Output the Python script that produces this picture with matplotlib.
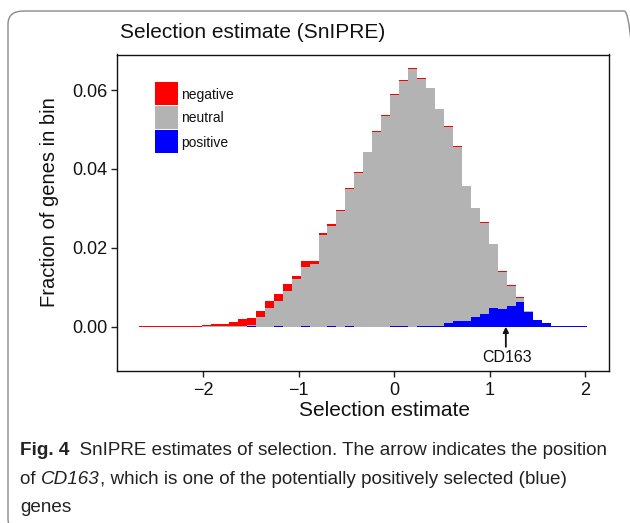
import numpy as np
import matplotlib
matplotlib.use("Agg")
import matplotlib.pyplot as plt
from matplotlib.patches import Rectangle, FancyBboxPatch
from matplotlib import font_manager

# ---------------- data ----------------
bin_lo, bin_hi, n_bins = -2.668, 2.018, 50
negative = [0.0002, 0.0001, 0.0001, 0.0001, 0.0001, 0.0001, 0.0002, 0.0003, 0.0006, 0.0006,
            0.0012, 0.0018, 0.0019, 0.0015, 0.0018, 0.0018, 0.0018, 0.0007, 0.0016, 0.0008,
            0.0005, 0.0005, 0.0003, 0.0003, 0.0002, 0.0001, 0.0001, 0.0001, 0.0001, 0.0001,
            0.0001, 0.0001, 0.0001, 0.0001, 0.0001, 0.0001, 0.0001, 0.0001, 0.0001, 0.0001,
            0.0001, 0.0001, 0.0001, 0.0001, 0.0000, 0.0000, 0.0001, 0.0002, 0.0001, 0.0002]
neutral = [0.0, 0.0, 0.0, 0.0, 0.0, 0.0, 0.0, 0.0001, 0.0001, 0.0001,
           0.0001, 0.0001, 0.0003, 0.0025, 0.0047, 0.0064, 0.0090, 0.0121, 0.0150, 0.0159,
           0.0232, 0.0254, 0.0293, 0.0348, 0.0389, 0.0442, 0.0494, 0.0535, 0.0587, 0.0623,
           0.0654, 0.0627, 0.0602, 0.0549, 0.0498, 0.0442, 0.0342, 0.0275, 0.0232, 0.0162,
           0.0094, 0.0052, 0.0011, 0.0002, 0.0, 0.0, 0.0, 0.0, 0.0, 0.0]
positive = [0.0, 0.0, 0.0, 0.0, 0.0, 0.0, 0.0, 0.0, 0.0, 0.0,
            0.0, 0.0, 0.0001, 0.0, 0.0, 0.0001, 0.0, 0.0, 0.0001, 0.0,
            0.0, 0.0001, 0.0, 0.0001, 0.0, 0.0, 0.0, 0.0, 0.0001, 0.0001,
            0.0, 0.0002, 0.0002, 0.0003, 0.0009, 0.0014, 0.0014, 0.0025, 0.0032, 0.0047,
            0.0045, 0.0052, 0.0063, 0.0037, 0.0017, 0.0009, 0.0002, 0.0001, 0.0002, 0.0001]
series_labels = ["negative", "neutral", "positive"]
series_colors = ["#FF0000", "#B3B3B3", "#0000FF"]
xticks = [-2, -1, 0, 1, 2]
yticks = [0.00, 0.02, 0.04, 0.06]
ytick_labels = ["0.00", "0.02", "0.04", "0.06"]
gene_label = "CD163"
gene_x = 1.167

title = "Selection estimate (SnIPRE)"
xlabel = "Selection estimate"
ylabel = "Fraction of genes in bin"

# ---------------- figure ----------------
W, H = 630, 523
fig = plt.figure(figsize=(W / 100, H / 100), dpi=100)
FONT = ["Liberation Sans", "DejaVu Sans"]
plt.rcParams["font.family"] = FONT


def fx(px):
    return px / W


def fy(py):
    return 1 - py / H


# outer rounded frame
fig.patches.append(FancyBboxPatch((fx(8), fy(532)), fx(640) - fx(8), fy(11) - fy(532),
                                  boxstyle="round,pad=0,rounding_size=0.025",
                                  transform=fig.transFigure, facecolor="none",
                                  edgecolor="#8a8a8a", linewidth=1.0))

ax = fig.add_axes([fx(117.3), fy(370.7), fx(609.3) - fx(117.3), fy(54.5) - fy(370.7)])

edges = np.linspace(bin_lo, bin_hi, n_bins + 1)
width = edges[1] - edges[0]
left = edges[:-1]
pos = np.array(positive)
neu = np.array(neutral)
neg = np.array(negative)
ax.bar(left, pos, width=width, align="edge", color=series_colors[2], linewidth=0)
ax.bar(left, neu, width=width, bottom=pos, align="edge", color=series_colors[1], linewidth=0)
# negative drawn slightly translucent so sub-pixel slivers blend to pink as in the print
ax.bar(left, neg, width=width, bottom=pos + neu, align="edge", color=series_colors[0],
       linewidth=0)

ax.set_xlim(-2.90, 2.25)
ax.set_ylim(-0.01115, 0.0690)
ax.set_xticks(xticks)
ax.set_xticklabels(["\u2212%d" % abs(v) if v < 0 else "%d" % v for v in xticks])
ax.set_yticks(yticks)
ax.set_yticklabels(ytick_labels)
ax.tick_params(axis="both", direction="out", length=4.5, width=1.0, labelsize=13,
               color="#222222", labelcolor="#111111")
ax.tick_params(axis="x", pad=3.5)
ax.tick_params(axis="y", pad=2.5)
for s in ax.spines.values():
    s.set_linewidth(1.0)
    s.set_color("#111111")

# arrow + gene label
ax.annotate("", xy=(gene_x, 0.0), xytext=(gene_x, -0.0051),
            arrowprops=dict(arrowstyle="-|>", color="#111111", lw=1.3,
                            mutation_scale=8, shrinkA=0, shrinkB=0))
ax.text(gene_x + 0.01, -0.00902, gene_label, ha="center", va="baseline",
        fontsize=11.5, color="#111111")

# legend (manual, base-R style fill boxes)
box_tops = [82, 106, 130]
for lab, col, top in zip(series_labels, series_colors, box_tops):
    fig.patches.append(Rectangle((fx(155), fy(top + 23)), fx(178) - fx(155), fy(top) - fy(top + 23),
                                 transform=fig.transFigure, facecolor=col, edgecolor="none"))
    fig.text(fx(181.5), fy(top + 16.5), lab, ha="left", va="baseline", fontsize=10, color="#111111")

# titles / axis labels
fig.text(fx(120), fy(38), title, ha="left", va="baseline", fontsize=15, color="#111111")
fig.text(fx(384), fy(416), xlabel, ha="center", va="baseline", fontsize=15, color="#111111")
fig.text(fx(50), fy(202), ylabel, ha="center", va="center", rotation=90, fontsize=14.5,
         color="#111111")

# ---------------- caption ----------------
renderer = fig.canvas.get_renderer()
CAP_FONT = ["Liberation Sans Narrow", "Liberation Sans", "DejaVu Sans"]
try:
    font_manager.findfont(font_manager.FontProperties(family="Liberation Sans Narrow"),
                          fallback_to_default=False)
except Exception:
    CAP_FONT = ["Liberation Sans", "DejaVu Sans"]

line1 = [("Fig. 4", "bold", "normal"),
         ("  SnIPRE estimates of selection. The arrow indicates the position", "normal", "normal")]
line2 = [("of ", "normal", "normal"), ("CD163", "normal", "italic"),
         (", which is one of the potentially positively selected (blue)", "normal", "normal")]
line3 = [("genes", "normal", "normal")]


def run_width(runs, size):
    total = 0
    for s, w, st in runs:
        t = fig.text(0, 0, s, fontsize=size, fontweight=w, fontstyle=st, family=CAP_FONT)
        total += t.get_window_extent(renderer).width
        t.remove()
    return total


target = 612 - 20
cap_size = 12 * target / run_width(line1, 12)


def draw_runs(runs, x0, ybase, size):
    x = x0
    for s, w, st in runs:
        t = fig.text(fx(x), fy(ybase), s, fontsize=size, fontweight=w, fontstyle=st,
                     family=CAP_FONT, ha="left", va="baseline", color="#222222")
        x += t.get_window_extent(renderer).width


draw_runs(line1, 20, 455, cap_size)
draw_runs(line2, 20, 484, cap_size)
draw_runs(line3, 20, 512, cap_size)

fig.savefig("out.png", dpi=100)
